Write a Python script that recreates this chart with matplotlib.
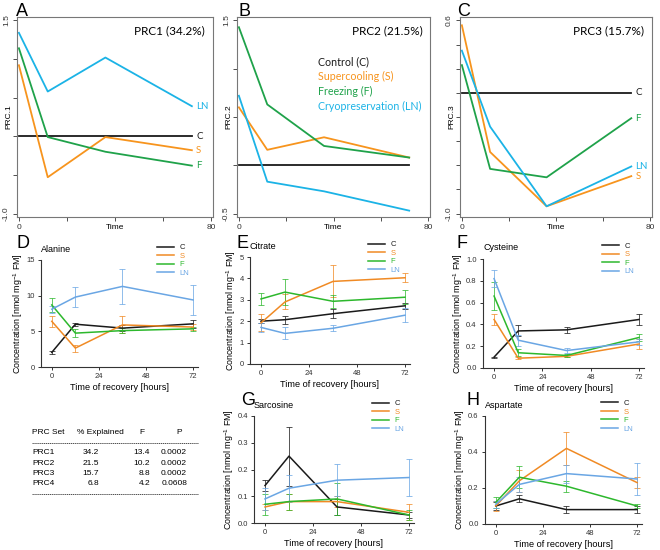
import matplotlib
matplotlib.use('Agg')
import matplotlib.pyplot as plt
from matplotlib.lines import Line2D

plt.rcParams['font.family'] = ['Liberation Sans', 'DejaVu Sans']
plt.rcParams['mathtext.fontset'] = 'custom'
plt.rcParams['mathtext.rm'] = 'Liberation Sans'
plt.rcParams['mathtext.default'] = 'regular'

W, H = 660, 550

# ---- PRC data (top row) ----
prc_time = [0, 12, 36, 72]
prc1 = {'C': [0, 0, 0, 0], 'S': [0.92, -0.53, -0.01, -0.18],
        'F': [1.14, -0.01, -0.20, -0.38], 'LN': [1.34, 0.58, 1.02, 0.39]}
prc2 = {'C': [0, 0, 0, 0], 'S': [0.60, 0.16, 0.29, 0.08],
        'F': [1.43, 0.63, 0.20, 0.08], 'LN': [0.72, -0.17, -0.27, -0.47]}
prc3 = {'C': [0, 0, 0, 0], 'S': [0.56, -0.49, -0.94, -0.69],
        'F': [0.23, -0.63, -0.70, -0.21], 'LN': [0.35, -0.28, -0.94, -0.61]}
prc_titles = ['PRC1 (34.2%)', 'PRC2 (21.5%)', 'PRC3 (15.7%)']
prc_ylabels = ['PRC.1', 'PRC.2', 'PRC.3']
prc_yticks = [[1.5, 1.0, 0.5, 0.0, -0.5, -1.0],
              [1.5, 1.0, 0.5, 0.0, -0.5],
              [0.6, 0.4, 0.2, 0.0, -0.2, -0.4, -0.6, -0.8, -1.0]]
treat_names = ['Control (C)', 'Supercooling (S)', 'Freezing (F)', 'Cryopreservation (LN)']

# ---- metabolite data (mean, sd) ----
time_h = [0, 12, 36, 72]
alanine = {'C': [2.05, 6.0, 5.45, 6.05], 'S': [6.4, 2.65, 5.9, 5.6],
           'F': [8.7, 4.75, 5.1, 5.35], 'LN': [8.1, 9.8, 11.3, 9.4]}
alanine_sd = {'C': [0.2, 0.2, 0.4, 0.6], 'S': [0.8, 0.5, 1.2, 0.4],
              'F': [0.95, 0.6, 0.4, 0.3], 'LN': [0.5, 1.45, 2.4, 2.15]}
citrate = {'C': [2.0, 2.07, 2.35, 2.72], 'S': [1.92, 2.9, 3.86, 4.03],
           'F': [3.04, 3.36, 2.93, 3.12], 'LN': [1.71, 1.43, 1.67, 2.28]}
citrate_sd = {'C': [0.1, 0.18, 0.2, 0.15], 'S': [0.4, 0.35, 0.75, 0.2],
              'F': [0.27, 0.6, 0.3, 0.33], 'LN': [0.2, 0.28, 0.15, 0.32]}
cysteine = {'C': [0.10, 0.34, 0.35, 0.445], 'S': [0.445, 0.09, 0.107, 0.22],
            'F': [0.66, 0.14, 0.115, 0.28], 'LN': [0.82, 0.255, 0.16, 0.24]}
cysteine_sd = {'C': [0.005, 0.05, 0.03, 0.05], 'S': [0.05, 0.01, 0.01, 0.05],
               'F': [0.13, 0.03, 0.01, 0.03], 'LN': [0.08, 0.05, 0.02, 0.03]}
sarcosine = {'C': [0.14, 0.25, 0.06, 0.03], 'S': [0.06, 0.08, 0.08, 0.04],
             'F': [0.07, 0.08, 0.09, 0.03], 'LN': [0.09, 0.13, 0.16, 0.17]}
sarcosine_sd = {'C': [0.02, 0.11, 0.03, 0.01], 'S': [0.01, 0.03, 0.02, 0.03],
                'F': [0.04, 0.03, 0.06, 0.02], 'LN': [0.04, 0.05, 0.06, 0.07]}
aspartate = {'C': [0.10, 0.14, 0.08, 0.08], 'S': [0.10, 0.24, 0.42, 0.23],
             'F': [0.12, 0.26, 0.21, 0.10], 'LN': [0.11, 0.22, 0.28, 0.25]}
aspartate_sd = {'C': [0.02, 0.02, 0.02, 0.02], 'S': [0.03, 0.06, 0.09, 0.03],
                'F': [0.03, 0.06, 0.03, 0.01], 'LN': [0.02, 0.04, 0.05, 0.09]}

# ---- PRC summary table ----
prc_sets = ['PRC1', 'PRC2', 'PRC3', 'PRC4']
pct_explained = ['34.2', '21.5', '15.7', '6.8']
f_values = ['13.4', '10.2', '8.8', '4.2']
p_values = ['0.0002', '0.0002', '0.0002', '0.0608']

treatments = ['C', 'S', 'F', 'LN']
top_colors = {'C': '#1a1a1a', 'S': '#f7941d', 'F': '#1fa24a', 'LN': '#1bb3e6'}
bot_colors = {'C': '#1a1a1a', 'S': '#f08a24', 'F': '#2db82d', 'LN': '#6aa6e4'}


def px_axes(fig, x0, y0, x1, y1):
    return fig.add_axes([x0 / W, 1 - y1 / H, (x1 - x0) / W, (y1 - y0) / H])


def letter(fig, x, y, s):
    # x = left edge, y = baseline (pixels from top)
    fig.text(x / W, 1 - y / H, s, fontsize=13, va='baseline', ha='left')


fig = plt.figure(figsize=(W / 100, H / 100), dpi=100)

# ---- top row: PRC plots ----
top_boxes = [(17, 17, 213, 217), (237, 17, 430, 217), (460, 17, 652, 217)]
prc_data = [prc1, prc2, prc3]
for i, (box, d) in enumerate(zip(top_boxes, prc_data)):
    ax = px_axes(fig, *box)
    for t in treatments:
        ax.plot(prc_time, d[t], color=top_colors[t], lw=1.3)
    ax.set_xlim(-0.8, 80.8)
    yt = prc_yticks[i]
    pad = (yt[0] - yt[-1]) * 0.018
    ax.set_ylim(yt[-1] - pad, yt[0] + pad)
    ax.set_yticks(yt)
    ax.set_yticklabels([f'{yt[0]:.1f}'] + [''] * (len(yt) - 2) + [f'{yt[-1]:.1f}'],
                       rotation=90, va='center', fontsize=6)
    ax.set_xticks([0, 20, 40, 60, 80])
    ax.set_xticklabels(['0', '', '', '', '80'], fontsize=6)
    ax.tick_params(length=3, width=0.6, pad=2, colors='#333333')
    ax.set_xlabel('Time', fontsize=6)
    ax.xaxis.set_label_coords(0.5, -0.035)
    ax.xaxis.label.set_va('top')
    ax.set_ylabel(prc_ylabels[i], fontsize=6)
    ax.yaxis.set_label_coords(-8.5 / (box[2] - box[0]), 0.5)
    ax.yaxis.label.set_va('center')
    for sp in ax.spines.values():
        sp.set_color('#777777')
        sp.set_linewidth(0.8)
    ax.text(0.96, 0.93, prc_titles[i], transform=ax.transAxes, ha='right', va='center',
            fontsize=8.5, family=['Lato', 'DejaVu Sans'])
    if i != 1:
        for t in treatments:
            ax.text(73.8, d[t][-1], t, color=top_colors[t], fontsize=7,
                    va='center', ha='left', family=['Lato', 'DejaVu Sans'])
    else:
        for k, (t, name) in enumerate(zip(treatments, treat_names)):
            ax.text(0.42, 0.775 - k * 0.074, name, transform=ax.transAxes, color=top_colors[t],
                    fontsize=7.7, va='center', ha='left', family=['Lato', 'DejaVu Sans'])

letter(fig, 16, 15.5, 'A')
letter(fig, 238, 15.5, 'B')
letter(fig, 457, 15.5, 'C')

# ---- metabolite panels ----
panels = [
    ('Alanine', alanine, alanine_sd, (41, 260, 198, 367), [0, 5, 10, 15], 15, '%d'),
    ('Citrate', citrate, citrate_sd, (250, 257, 410, 364), [0, 1, 2, 3, 4, 5], 5, '%d'),
    ('Cysteine', cysteine, cysteine_sd, (483, 259, 644, 368), [0, 0.2, 0.4, 0.6, 0.8, 1.0], 1.0, '%.1f'),
    ('Sarcosine', sarcosine, sarcosine_sd, (254, 416, 414, 523), [0, 0.1, 0.2, 0.3, 0.4], 0.4, '%.1f'),
    ('Aspartate', aspartate, aspartate_sd, (485, 416, 642, 524), [0, 0.2, 0.4, 0.6], 0.6, '%.1f'),
]
for name, mean, sd, box, yt, ymax, fmt in panels:
    ax = px_axes(fig, *box)
    handles = []
    for t in treatments:
        eb = ax.errorbar(time_h, mean[t], yerr=sd[t], color=bot_colors[t], lw=1.1,
                         ecolor=bot_colors[t], elinewidth=0.7, capsize=2, capthick=0.7,
                         label=t)
        for art in eb[1] + eb[2]:
            art.set_alpha(0.75)
        handles.append(eb[0])
    ax.set_xlim(-5.5, 74.5)
    ax.set_ylim(0, ymax)
    ax.set_xticks([0, 24, 48, 72])
    ax.set_yticks(yt)
    ax.set_yticklabels([fmt % v for v in yt])
    ax.spines['top'].set_visible(False)
    ax.spines['right'].set_visible(False)
    for sp in ('left', 'bottom'):
        ax.spines[sp].set_linewidth(0.8)
        ax.spines[sp].set_color('#333333')
    ax.tick_params(labelsize=5.5, length=2.5, width=0.7, pad=2, colors='#333333')
    ax.set_ylabel('Concentration [nmol mg$^{-1}$ FM]', fontsize=6.4, labelpad=1)
    ax.set_xlabel('Time of recovery [hours]', fontsize=6.6, labelpad=2)
    ax.text(0.0, 1.06, name, transform=ax.transAxes, fontsize=6.5, ha='left', va='bottom')
    ax.legend(handles, treatments, loc='upper left', bbox_to_anchor=(0.74, 1.15),
              frameon=False, fontsize=5.5, handlelength=2.2, handletextpad=0.7,
              labelspacing=0.15, borderpad=0, borderaxespad=0, labelcolor='linecolor')

letter(fig, 16, 248, 'D')
letter(fig, 237, 248, 'E')
letter(fig, 457, 248, 'F')
letter(fig, 241, 405, 'G')
letter(fig, 466, 405, 'H')

# ---- table ----
def ftext(x, y, s, ha='left'):
    fig.text(x / W, 1 - y / H, s, fontsize=6, ha=ha, va='center')

ftext(32, 433, 'PRC Set')
ftext(100, 433, '% Explained', ha='center')
ftext(142, 433, 'F', ha='center')
ftext(179, 433, 'P', ha='center')
for k in range(len(prc_sets)):
    y = 453 + k * 10.3
    ftext(32, y, prc_sets[k])
    ftext(99, y, pct_explained[k], ha='right')
    ftext(150, y, f_values[k], ha='right')
    ftext(187, y, p_values[k], ha='right')
for y in (443, 494):
    fig.add_artist(Line2D([32 / W, 198 / W], [1 - y / H, 1 - y / H], color='#333333',
                          lw=0.6, linestyle=(0, (1.5, 0.8))))

fig.savefig('out.png', dpi=100)
